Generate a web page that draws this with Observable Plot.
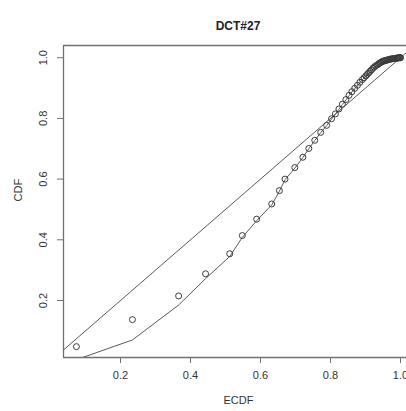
<!DOCTYPE html>
<html>
<head>
<meta charset="utf-8">
<script src="https://cdn.jsdelivr.net/npm/d3@7"></script>
<script src="https://cdn.jsdelivr.net/npm/@observablehq/plot@0.6"></script>
<style>
  html, body { margin: 0; padding: 0; background: #fff; }
  #chart svg { display: block; }
</style>
</head>
<body>
<div id="chart"></div>
<script>
const title = "DCT#27";
const xLabel = "ECDF";
const yLabel = "CDF";

const ecdf = [0.074, 0.234, 0.366, 0.443, 0.512, 0.548, 0.589, 0.632, 0.654, 0.670,
  0.698, 0.721, 0.738, 0.755, 0.772, 0.789, 0.803, 0.814, 0.824, 0.834,
  0.844, 0.853, 0.861, 0.869, 0.877, 0.884, 0.891, 0.896, 0.901, 0.905,
  0.909, 0.913, 0.917, 0.921, 0.925, 0.929, 0.933, 0.937, 0.940, 0.943,
  0.946, 0.949, 0.952, 0.955, 0.958, 0.961, 0.964, 0.967, 0.970, 0.973,
  0.976, 0.979, 0.982, 0.985, 0.988, 0.990, 0.992, 0.994, 0.996, 0.998,
  0.999, 1.000];
const cdf = [0.048, 0.137, 0.215, 0.288, 0.354, 0.414, 0.468, 0.518, 0.562, 0.600,
  0.638, 0.672, 0.701, 0.728, 0.754, 0.777, 0.799, 0.815, 0.831, 0.847,
  0.862, 0.876, 0.888, 0.899, 0.909, 0.919, 0.928, 0.934, 0.940, 0.945,
  0.950, 0.955, 0.960, 0.965, 0.969, 0.973, 0.976, 0.979, 0.982, 0.984,
  0.986, 0.988, 0.989, 0.990, 0.991, 0.992, 0.993, 0.994, 0.995, 0.996,
  0.996, 0.997, 0.997, 0.998, 0.998, 0.999, 0.999, 0.999, 1.000, 1.000,
  1.000, 1.000];
// lower curve (drawn as a polyline)
const lowerX = [0.074, 0.234, 0.366, 0.443, 0.512, 0.548, 0.589, 0.632, 0.654, 0.670,
  0.698, 0.721, 0.738, 0.755, 0.772, 0.789, 0.803, 0.814, 0.824, 0.834,
  0.844, 0.853, 0.861, 0.869, 0.877, 0.884, 0.891, 0.901, 0.913, 0.925,
  0.937, 0.949, 0.961, 0.973, 0.985, 0.994, 1.000];
const lowerY = [0.005, 0.070, 0.185, 0.272, 0.345, 0.408, 0.463, 0.515, 0.560, 0.598,
  0.636, 0.671, 0.700, 0.727, 0.753, 0.776, 0.798, 0.814, 0.830, 0.846,
  0.861, 0.875, 0.887, 0.898, 0.908, 0.918, 0.927, 0.939, 0.954, 0.968,
  0.978, 0.987, 0.991, 0.995, 0.997, 0.999, 1.000];

const xTicks = [0.2, 0.4, 0.6, 0.8, 1.0];
const yTicks = [0.2, 0.4, 0.6, 0.8, 1.0];

const xDomain = [0.0371, 1.0171];
const yDomain = [0.0122, 1.0402];

const points = ecdf.map((x, i) => ({x, y: cdf[i]}));
const lower = lowerX.map((x, i) => ({x, y: lowerY[i]}));
const diag = xDomain.map(v => ({x: v, y: v}));

const fmt = d3.format(".1f");
const font = "Liberation Sans, Arial, Helvetica, sans-serif";
const axisCol = "#707070";
const txtCol = "#333";

const chart = Plot.plot({
  width: 406,
  height: 411,
  marginLeft: 63,
  marginRight: 0,
  marginTop: 45,
  marginBottom: 54,
  style: {fontFamily: font, fontSize: "11px", color: txtCol, background: "#fff"},
  x: {domain: xDomain, ticks: xTicks, label: null},
  y: {domain: yDomain, ticks: yTicks, label: null},
  marks: [
    Plot.ruleX([xDomain[0]], {stroke: axisCol, strokeWidth: 1.3}),
    Plot.ruleY([yDomain[0], yDomain[1]], {stroke: axisCol, strokeWidth: 1.3}),
    Plot.axisX({ticks: xTicks, tickSize: 6, tickPadding: 8, tickFormat: fmt,
      stroke: axisCol, fill: txtCol, fontSize: 11, label: null}),
    Plot.axisY({ticks: yTicks, tickSize: 6, tickFormat: () => "", stroke: axisCol, label: null}),
    Plot.text(yTicks, {x: () => xDomain[0], y: d => d, text: d => fmt(d), rotate: -90,
      dx: -20, fill: txtCol, fontSize: 11, textAnchor: "middle"}),
    Plot.line(diag, {x: "x", y: "y", stroke: "#5a5a5a", strokeWidth: 1, clip: true}),
    Plot.line(lower, {x: "x", y: "y", stroke: "#5a5a5a", strokeWidth: 1, clip: true}),
    Plot.dot(points, {x: "x", y: "y", r: 3, stroke: "#3a3a3a", strokeWidth: 1, fill: "none"}),
    Plot.text([title], {frameAnchor: "top", dy: -24, dx: 3, fontWeight: "bold",
      fontSize: 12, fill: "#222"}),
    Plot.text([xLabel], {frameAnchor: "bottom", dy: 46, dx: 3.5, fontSize: 11, fill: txtCol}),
    Plot.text([yLabel], {frameAnchor: "left", dx: -45, rotate: -90, fontSize: 11, fill: txtCol})
  ]
});
document.getElementById("chart").appendChild(chart);
</script>
</body>
</html>
